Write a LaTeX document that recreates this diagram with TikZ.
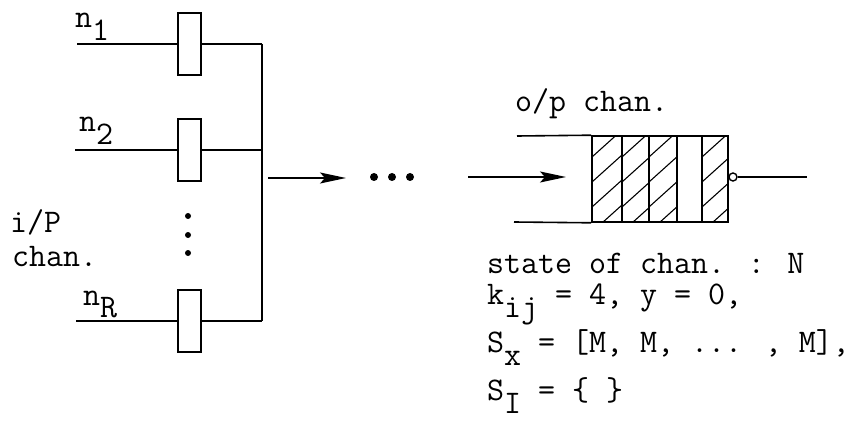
\documentclass[tikz,border=0pt]{standalone}
\usepackage{fontspec}
\usetikzlibrary{arrows.meta}
\newcommand\lsub[1]{\raisebox{-13pt}{#1}}
\tikzset{
  ln/.style={line width=1.6pt},
  gate/.style={draw, line width=1.8pt, rectangle, minimum width=23pt, minimum height=62pt, inner sep=0pt},
  lbl/.style={inner sep=0pt, anchor=base west, font=\fontsize{33}{33}\selectfont\ttfamily},
  arr/.style={-{Stealth[length=26pt,width=11pt,inset=5pt]}},
  dot/.style={circle, fill, inner sep=0pt, minimum size=8pt},
}
\begin{document}
\begin{tikzpicture}[x=1pt,y=-1pt]
\useasboundingbox (0,0) rectangle (852,433);
% input gates
\node[gate] (b1) at (189.5,44) {};
\node[gate] (b2) at (189.5,150) {};
\node[gate] (bR) at (189.5,321) {};
\coordinate (i1) at (77,44);
\coordinate (i2) at (75,150);
\coordinate (iR) at (76,321);
\coordinate (u1) at (262,44);
\coordinate (u2) at (262,150);
\coordinate (uR) at (262,321);
\draw[ln] (i1) -- (b1.west);
\draw[ln] (i2) -- (b2.west);
\draw[ln] (iR) -- (bR.west);
\draw[ln] (b1.east) -- (u1);
\draw[ln] (b2.east) -- (u2);
\draw[ln] (bR.east) -- (uR);
\draw[ln] (u1) -- (uR);
% vertical dots
\node[dot, minimum size=6pt] (v1) at (188,216) {};
\node[dot, minimum size=6pt] (v2) at (188,235) {};
\node[dot, minimum size=6pt] (v3) at (188,253) {};
% output from bus
\coordinate (o1) at (268,178);
\coordinate (o2) at (346,178);
\draw[ln, arr] (o1) -- (o2);
\node[dot] (d1) at (374,177) {};
\node[dot] (d2) at (392,177) {};
\node[dot] (d3) at (410,177) {};
% channel
\coordinate (c1) at (468,177);
\coordinate (c2) at (566,177);
\draw[ln, arr] (c1) -- (c2);
\coordinate (t0) at (517,136);
\coordinate (q0) at (514,222);
\node[draw, line width=1.6pt, rectangle, minimum width=136pt, minimum height=86pt, inner sep=0pt] (buf) at (660,179) {};
\draw[ln] (t0) -- (buf.north west);
\draw[ln] (q0) -- (buf.south west);
\foreach \x in {622,649,677,702} \draw[line width=1.4pt] (\x,136) -- (\x,222);
\foreach \a/\b in {592/622,622/649,649/677,702/728} {
  \begin{scope}
  \clip (\a,136) rectangle (\b,222);
  \foreach \c in {-60,-35,...,140} \draw[line width=1.1pt] (\a,222-\c) -- ++(40,-36);
  \end{scope}
}
\node[circle, draw, line width=1.4pt, minimum size=8pt, inner sep=0pt] (k) at (733,177) {};
\coordinate (e) at (807,177);
\draw[ln] (k.east) -- (e);
% labels
\node[lbl] (ln1) at (75,28) {n\lsub{1}};
\node[lbl] (ln2) at (79,132) {n\lsub{2}};
\node[lbl] (lnR) at (83,305) {n\lsub{R}};
\node[lbl] (ip) at (10,233) {i/P};
\node[lbl] (ch) at (12,266) {chan.};
\node[lbl] (op) at (515,112) {o/p chan.};
\node[lbl] (s1) at (487,273) {state of chan. : N};
\node[lbl] (s2) at (487,304) {k\lsub{ij} = 4, y = 0,};
\node[lbl] (s3) at (487,352) {S\lsub{x} = [M, M, ... , M],};
\node[lbl] (s4) at (487,400) {S\lsub{I} = \{ \}};
\end{tikzpicture}
\end{document}
